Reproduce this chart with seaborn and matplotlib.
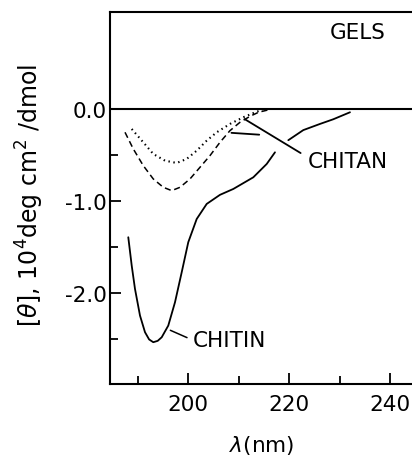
import matplotlib
matplotlib.use("Agg")
import matplotlib.pyplot as plt
import seaborn as sns
from matplotlib.ticker import FixedLocator, FixedFormatter

# ---- data ----
# CHITIN (solid), drawn in two pieces (gap where the CHITAN leader crosses)
chitin_wl = [188.17, 188.85, 189.50, 190.49, 191.48, 192.3, 193.12, 194.0, 194.79, 196.09,
             197.42, 198.75, 200.05, 201.72, 203.70, 206.33, 208.97, 212.93, 215.58, 217.22]
chitin_th = [-1.397, -1.706, -1.960, -2.250, -2.431, -2.51, -2.540, -2.525, -2.486, -2.359,
             -2.105, -1.778, -1.451, -1.198, -1.034, -0.935, -0.871, -0.744, -0.599, -0.472]
chitin2_wl = [219.86, 222.83, 226.13, 228.77, 232.07]
chitin2_th = [-0.340, -0.230, -0.163, -0.112, -0.036]

# CHITAN (dashed)
dash_wl = [187.52, 189.16, 191.14, 193.12, 195.10, 196.77, 198.41, 200.39, 202.37, 204.35,
           206.33, 208.31, 210.29, 212.27, 214.0, 215.84]
dash_th = [-0.254, -0.435, -0.617, -0.762, -0.853, -0.889, -0.853, -0.762, -0.635, -0.508,
           -0.363, -0.236, -0.145, -0.080, -0.035, -0.011]

# CHITAN (dotted)
dot_wl = [188.85, 191.14, 193.12, 195.44, 197.76, 199.74, 201.72, 203.70, 205.68, 208.31,
          210.95, 213.6, 214.7]
dot_th = [-0.218, -0.363, -0.490, -0.563, -0.588, -0.544, -0.454, -0.345, -0.254, -0.163,
          -0.090, -0.030, -0.010]

xticks_major = [200, 220, 240]
xtick_labels = ["200", "220", "240"]
xticks_minor = [190, 210, 230]
yticks_major = [0.0, -1.0, -2.0]
ytick_labels = ["0.0", "-1.0", "-2.0"]
yticks_minor = [-0.5, -1.5, -2.5]

sns.set_style("ticks", {"text.color": "black", "xtick.color": "black",
                        "ytick.color": "black", "axes.labelcolor": "black",
                        "axes.edgecolor": "black"})
plt.rcParams['font.family'] = ['DejaVu Sans']
plt.rcParams['mathtext.fontset'] = 'dejavusans'
plt.rcParams['lines.solid_joinstyle'] = 'round'
plt.rcParams['lines.dash_joinstyle'] = 'round'

fig = plt.figure(figsize=(4.12, 4.56), dpi=100)
ax = fig.add_axes([110/412, 1-385/456, (414-110)/412, (385-13)/456])

lw = 1.3
sns.lineplot(x=chitin_wl, y=chitin_th, ax=ax, color="black", lw=lw, sort=False, estimator=None)
sns.lineplot(x=chitin2_wl, y=chitin2_th, ax=ax, color="black", lw=lw, sort=False, estimator=None)
sns.lineplot(x=dash_wl, y=dash_th, ax=ax, color="black", lw=1.1, sort=False, estimator=None,
             linestyle=(0, (4, 2.5)))
sns.lineplot(x=dot_wl, y=dot_th, ax=ax, color="black", lw=1.5, sort=False, estimator=None,
             linestyle=(0, (0.7, 1.7)))

ax.axhline(0, color="black", lw=1.5)

# leader lines
ax.plot([211.2, 222.3], [-0.11, -0.48], color="black", lw=1.3)
ax.plot([208.6, 214.1], [-0.26, -0.28], color="black", lw=1.3)
ax.plot([196.5, 199.8], [-2.41, -2.49], color="black", lw=1.1)

fs = 15.5
ax.text(228.1, 0.84, "GELS", fontsize=fs, ha="left", va="center", color="black")
ax.text(223.8, -0.566, "CHITAN", fontsize=fs, ha="left", va="center", color="black")
ax.text(201.0, -2.515, "CHITIN", fontsize=fs, ha="left", va="center", color="black")

ax.set_xlim(184.55, 244.75)
ax.set_ylim(-2.995, 1.056)

ax.xaxis.set_major_locator(FixedLocator(xticks_major))
ax.xaxis.set_major_formatter(FixedFormatter(xtick_labels))
ax.xaxis.set_minor_locator(FixedLocator(xticks_minor))
ax.yaxis.set_major_locator(FixedLocator(yticks_major))
ax.yaxis.set_major_formatter(FixedFormatter(ytick_labels))
ax.yaxis.set_minor_locator(FixedLocator(yticks_minor))

ax.tick_params(which="major", direction="in", length=8, width=1.3, labelsize=fs,
               colors="black")
ax.tick_params(which="minor", direction="in", length=6, width=1.3, colors="black")
ax.tick_params(axis="x", which="major", pad=7)
ax.tick_params(axis="y", which="major", pad=2)

for s in ax.spines.values():
    s.set_linewidth(1.5)
    s.set_color("black")

ax.set_xlabel(r"$\lambda$(nm)", fontsize=fs, labelpad=14, color="black")
ax.set_ylabel(r"[$\theta$], 10$^4$deg cm$^2$ /dmol", fontsize=17, color="black")
ax.yaxis.set_label_coords(-0.212, 0.51)

fig.savefig("out.png", dpi=100)
